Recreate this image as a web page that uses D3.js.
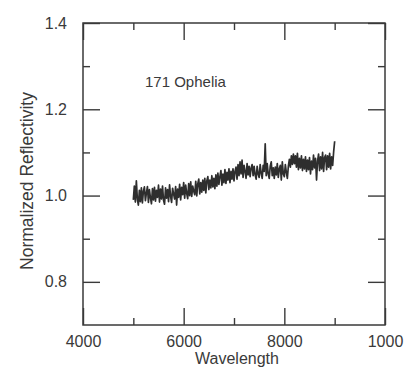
<!DOCTYPE html>
<html><head><meta charset="utf-8">
<script src="https://cdn.jsdelivr.net/npm/d3@7"></script>
<style>body{margin:0;background:#fff}svg{display:block}</style>
</head><body>
<script>
const wavelengthStart = 5000, wavelengthStep = 20;
const reflectivity = [
0.990,1.022,0.985,1.034,0.992,0.978,1.012,0.986,1.018,0.983,1.010,1.020,0.988,1.006,1.021,0.984,1.014,0.995,0.981,1.016,0.990,
1.019,0.987,1.012,0.996,1.024,0.985,1.015,0.992,1.022,0.989,0.980,1.018,0.994,1.014,0.986,1.025,0.998,0.984,1.017,1.004,
0.992,1.021,0.978,1.015,0.996,1.026,0.990,1.019,1.002,1.030,0.994,1.024,1.005,0.993,1.028,1.000,1.032,0.998,1.022,1.010,
1.002,1.033,0.999,1.027,1.038,1.004,1.030,1.008,1.036,1.012,1.040,1.006,1.034,1.044,1.014,1.036,1.018,1.046,1.020,1.040,
1.016,1.048,1.022,1.052,1.026,1.044,1.058,1.024,1.050,1.030,1.060,1.028,1.054,1.036,1.062,1.030,1.056,1.038,1.062,1.034,
1.056,1.066,1.038,1.072,1.046,1.078,1.050,1.082,1.042,1.070,1.056,1.040,1.074,1.048,1.068,1.044,1.064,1.072,1.046,1.068,
1.048,1.038,1.068,1.050,1.042,1.072,1.052,1.040,1.070,1.056,1.120,1.046,1.074,1.050,1.040,1.068,1.078,1.046,1.064,1.040,
1.066,1.048,1.074,1.042,1.062,1.070,1.036,1.078,1.050,1.044,1.072,1.054,1.040,1.068,1.084,1.066,1.092,1.072,1.096,1.074,
1.092,1.066,1.098,1.060,1.086,1.064,1.092,1.058,1.084,1.062,1.090,1.056,1.082,1.060,1.088,1.050,1.080,1.060,1.094,1.064,
1.086,1.036,1.080,1.096,1.058,1.090,1.062,1.100,1.056,1.088,1.094,1.060,1.092,1.066,1.098,1.062,1.090,1.070,1.102,1.126
];
const xMajorTicks = [4000, 6000, 8000, 10000];
const xTickLabels = ["4000", "6000", "8000", "1000"];
const xMinorTicks = [5000, 7000, 9000];
const yMajorTicks = [0.8, 1.0, 1.2, 1.4];
const yMinorTicks = [0.9, 1.1, 1.3];
const annotation = "171 Ophelia";
const xTitle = "Wavelength";
const yTitle = "Normalized Reflectivity";

const W = 413, H = 369;
const L = 83, R = 385, T = 23, B = 325;
const ink = "#3a3a3a";
const font = "Liberation Sans, Arial, sans-serif";
const svg = d3.select("body").append("svg").attr("width", W).attr("height", H);
const x = d3.scaleLinear().domain([4000, 10000]).range([L, R]);
const y = d3.scaleLinear().domain([0.7, 1.4]).range([B, T]);

const data = reflectivity.map((v, i) => [wavelengthStart + i * wavelengthStep, v]);

function styleAxis(g) {
  g.select(".domain").remove();
  g.selectAll(".tick line").attr("stroke", ink).attr("stroke-width", 1.4);
  g.selectAll("text").attr("fill", ink).attr("font-family", font).attr("font-size", 16);
}
const fmtX = d => xTickLabels[xMajorTicks.indexOf(d)];
// bottom
svg.append("g").attr("transform", `translate(0,${B})`)
  .call(d3.axisBottom(x).tickValues(xMajorTicks).tickSize(-17).tickPadding(11).tickFormat(fmtX)).call(styleAxis);
svg.append("g").attr("transform", `translate(0,${B})`)
  .call(d3.axisBottom(x).tickValues(xMinorTicks).tickSize(-7).tickFormat("")).call(styleAxis);
// top
svg.append("g").attr("transform", `translate(0,${T})`)
  .call(d3.axisTop(x).tickValues(xMajorTicks).tickSize(-17).tickFormat("")).call(styleAxis);
svg.append("g").attr("transform", `translate(0,${T})`)
  .call(d3.axisTop(x).tickValues(xMinorTicks).tickSize(-7).tickFormat("")).call(styleAxis);
// left
svg.append("g").attr("transform", `translate(${L},0)`)
  .call(d3.axisLeft(y).tickValues(yMajorTicks).tickSize(-17).tickPadding(16).tickFormat(d3.format(".1f"))).call(styleAxis);
svg.append("g").attr("transform", `translate(${L},0)`)
  .call(d3.axisLeft(y).tickValues(yMinorTicks).tickSize(-7).tickFormat("")).call(styleAxis);
// right
svg.append("g").attr("transform", `translate(${R},0)`)
  .call(d3.axisRight(y).tickValues(yMajorTicks).tickSize(-17).tickFormat("")).call(styleAxis);
svg.append("g").attr("transform", `translate(${R},0)`)
  .call(d3.axisRight(y).tickValues(yMinorTicks).tickSize(-7).tickFormat("")).call(styleAxis);

svg.append("rect").attr("x", L).attr("y", T).attr("width", R - L).attr("height", B - T)
  .attr("fill", "none").attr("stroke", ink).attr("stroke-width", 1.5);

svg.append("path").datum(data)
  .attr("d", d3.line().x(d => x(d[0])).y(d => y(d[1])))
  .attr("fill", "none").attr("stroke", "#2e2e2e").attr("stroke-width", 1.7)
  .attr("stroke-linejoin", "round");

svg.append("text").attr("x", 145).attr("y", 87).attr("font-family", font).attr("font-size", 15)
  .attr("fill", ink).text(annotation);
svg.append("text").attr("x", 237).attr("y", 364).attr("text-anchor", "middle")
  .attr("font-family", font).attr("font-size", 16).attr("fill", ink).text(xTitle);
svg.append("text").attr("transform", "translate(33,181) rotate(-90)").attr("text-anchor", "middle")
  .attr("font-family", font).attr("font-size", 17.5).attr("fill", ink).text(yTitle);
</script>
</body></html>
